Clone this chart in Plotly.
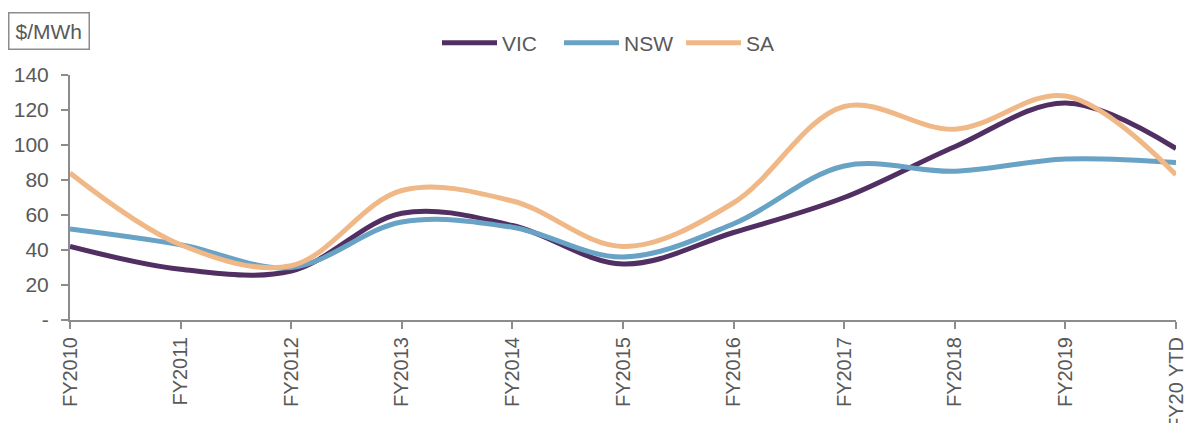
import plotly.graph_objects as go

categories = ["FY2010", "FY2011", "FY2012", "FY2013", "FY2014", "FY2015",
              "FY2016", "FY2017", "FY2018", "FY2019", "FY20 YTD"]
vic = [42, 29, 28, 61, 54, 32, 50, 70, 99, 124, 98]
nsw = [52, 43, 30, 56, 53, 36, 55, 88, 85, 92, 90]
sa = [84, 43, 31, 74, 68, 42, 67, 122, 109, 128, 83]
y_tickvals = [0, 20, 40, 60, 80, 100, 120, 140]
y_ticktext = ["-", "20", "40", "60", "80", "100", "120", "140"]

FONT = "Liberation Sans Narrow, Arial Narrow, Liberation Sans, Arial, sans-serif"
TXT = "#595959"
AX = "#8c8c8c"
FS = 21

# page has an 8px body margin; plot area target (page px): x 70..1176, y 75..320
L, R, T, B = 62, 32, 67, 111
PW, PH = 1200 - L - R, 423 - T - B

x = list(range(len(categories)))
fig = go.Figure()
for name, vals, col in [("VIC", vic, "#512f62"), ("NSW", nsw, "#68a2c5"), ("SA", sa, "#efb886")]:
    fig.add_trace(go.Scatter(x=x, y=vals, name=name, mode="lines",
                             line=dict(color=col, width=5, shape="spline", smoothing=1.0),
                             cliponaxis=False))

fig.update_layout(
    width=1200, height=423,
    margin=dict(l=L, r=R, t=T, b=B),
    paper_bgcolor="white", plot_bgcolor="white",
    font=dict(family=FONT, size=FS, color=TXT),
    showlegend=True,
    legend=dict(orientation="h", x=(612 - L) / PW, xanchor="center",
                y=(312 - 35) / PH, yanchor="middle",
                font=dict(family=FONT, size=FS, color=TXT), itemwidth=55,
                entrywidth=52, entrywidthmode="pixels",
                traceorder="normal", bgcolor="rgba(0,0,0,0)"),
    xaxis=dict(range=[0, 10], tickvals=x, ticktext=categories, tickangle=-90,
               automargin=False,
               showgrid=False, zeroline=False, showline=True, linecolor=AX, linewidth=2,
               ticks="outside", ticklen=7, tickcolor=AX, tickwidth=2,
               tickfont=dict(family=FONT, size=20, color=TXT)),
    yaxis=dict(range=[0, 140], tickvals=y_tickvals, ticktext=y_ticktext,
               automargin=False, ticklabelstandoff=8,
               showgrid=False, zeroline=False, showline=True, linecolor=AX, linewidth=2,
               ticks="outside", ticklen=7, tickcolor=AX, tickwidth=2,
               tickfont=dict(family=FONT, size=FS, color=TXT)),
    annotations=[dict(text="$/MWh", xref="paper", yref="paper",
                      x=(0 - L) / PW, y=(312 - 4) / PH, xanchor="left", yanchor="top",
                      showarrow=False, font=dict(family=FONT, size=FS, color=TXT),
                      bordercolor="#8c8c8c", borderwidth=1.5, borderpad=6, bgcolor="white")],
)

fig.write_html("out.html")
